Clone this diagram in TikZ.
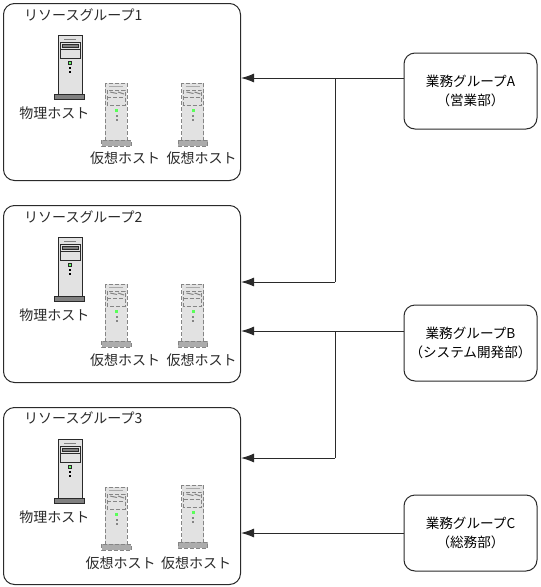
\documentclass[tikz,border=0pt]{standalone}
\usepackage{fontspec}
\setmainfont{Noto Sans CJK JP}
\usetikzlibrary{arrows.meta,calc}
\definecolor{ln}{HTML}{2A2A2A}
\definecolor{bodyfill}{HTML}{E2E2E2}
\definecolor{vline}{HTML}{858585}
\tikzset{
  x=1pt,y=-1pt,
  group/.style={draw=ln,line width=1pt,rounded corners=11pt,fill=white,minimum width=237pt,minimum height=177pt,inner sep=0pt,anchor=north west},
  biz/.style={draw=ln,line width=1pt,rounded corners=11pt,fill=white,minimum width=133pt,minimum height=76pt,inner sep=0pt,align=center,font=\fontsize{13.6}{18.5}\selectfont},
  lbl/.style={font=\fontsize{14}{15}\selectfont,inner sep=0pt,text=ln},
  conn/.style={draw=ln,line width=1pt},
  arrowline/.style={conn,-{Latex[length=13pt,width=9pt]}},
  physical/.pic={
    \draw[ln,line width=.9pt,fill=bodyfill] (0,0) rectangle (24,59);
    \draw[gray,line width=1pt] (6,4) -- (18,4);
    \draw[ln,line width=.8pt,fill=bodyfill] (2,7) rectangle (22,23);
    \draw[ln,line width=.7pt,fill=gray] (4,9) rectangle (20,12);
    \draw[ln,line width=.7pt] (2,14) -- (22,14);
    \draw[ln,line width=.6pt,fill=green!60!white] (10.5,26) rectangle (13,29);
    \fill[black] (10.5,31.5) rectangle (13,33.5);
    \fill[black] (10.5,35.5) rectangle (13,37.5);
    \draw[ln,line width=.9pt,fill=gray] (-4,59) rectangle (26,64);
  },
  virtual/.pic={
    \draw[vline,line width=.9pt,dash pattern=on 4pt off 2pt,fill=bodyfill] (0,0) rectangle (22,57);
    \draw[vline!70,line width=1.2pt] (4,3.5) -- (18,3.5);
    \draw[vline,line width=.8pt,dash pattern=on 4pt off 2pt] (2,7) rectangle (20,22);
    \draw[vline,line width=1pt] (5,9) -- (12,10.5);
    \draw[vline,line width=1pt] (13,9) -- (19,11);
    \draw[vline,line width=.7pt,dash pattern=on 4pt off 2pt] (2,14.5) -- (20,14.5);
    \fill[green!65!white] (10,26) rectangle (13,29);
    \fill[vline] (10.5,31.5) rectangle (12.5,33.5);
    \fill[vline] (10.5,35.5) rectangle (12.5,37.5);
    \draw[vline,line width=.9pt,dash pattern=on 4pt off 2pt,fill=gray!65] (-3.5,57) rectangle (26,63);
  },
}
\begin{document}
\begin{tikzpicture}
\useasboundingbox (0,0) rectangle (541,587);
% resource groups
\node[group] (rg1) at (3,3) {};
\node[group] (rg2) at (3,205) {};
\node[group] (rg3) at (3,407) {};
% business groups
\node[biz] (ba) at (470.5,91) {業務グループA\\（営業部）};
\node[biz] (bb) at (470.5,343) {業務グループB\\（システム開発部）};
\node[biz] (bc) at (470.5,533) {業務グループC\\（総務部）};
% titles
\node[lbl,anchor=west] (t1) at (24,15) {リソースグループ1};
\node[lbl,anchor=west] (t2) at (24,217) {リソースグループ2};
\node[lbl,anchor=west] (t3) at (24,418) {リソースグループ3};
% hosts
\pic at (58,35) {physical};
\pic at (105,83) {virtual};
\pic at (181.5,83) {virtual};
\pic at (58,237) {physical};
\pic at (105,284) {virtual};
\pic at (181.5,284) {virtual};
\pic at (58,439) {physical};
\pic at (105,487) {virtual};
\pic at (181.5,485) {virtual};
% host labels
\node[lbl] (p1) at (54.5,113) {物理ホスト};
\node[lbl] (v11) at (125,158) {仮想ホスト};
\node[lbl] (v12) at (201.5,158) {仮想ホスト};
\node[lbl] (p2) at (54.5,315) {物理ホスト};
\node[lbl] (v21) at (125,360) {仮想ホスト};
\node[lbl] (v22) at (201.5,360) {仮想ホスト};
\node[lbl] (p3) at (54.5,517) {物理ホスト};
\node[lbl] (v31) at (120.5,563) {仮想ホスト};
\node[lbl] (v32) at (196,563) {仮想ホスト};
% connector ports
\coordinate (aout) at ($(ba.west)+(0,-13)$);
\coordinate (a1) at (rg1.east |- aout);
\coordinate (jaTop) at (335,0 |- aout);
\coordinate (a2in) at ($(rg2.east)+(0,-12)$);
\coordinate (jaBot) at (jaTop |- a2in);
\coordinate (bout) at ($(bb.west)+(0,-12)$);
\coordinate (b2in) at (rg2.east |- bout);
\coordinate (jbTop) at (jaTop |- bout);
\coordinate (b3in) at ($(rg3.east)+(0,-38)$);
\coordinate (jbBot) at (jaTop |- b3in);
\coordinate (c3in) at (rg3.east |- bc.west);
% connectors
\draw[arrowline] (aout) -- (a1);
\draw[conn] (jaTop) -- (jaBot);
\draw[arrowline] (jaBot) -- (a2in);
\draw[arrowline] (bout) -- (b2in);
\draw[conn] (jbTop) -- (jbBot);
\draw[arrowline] (jbBot) -- (b3in);
\draw[arrowline] (bc.west) -- (c3in);
\end{tikzpicture}
\end{document}
